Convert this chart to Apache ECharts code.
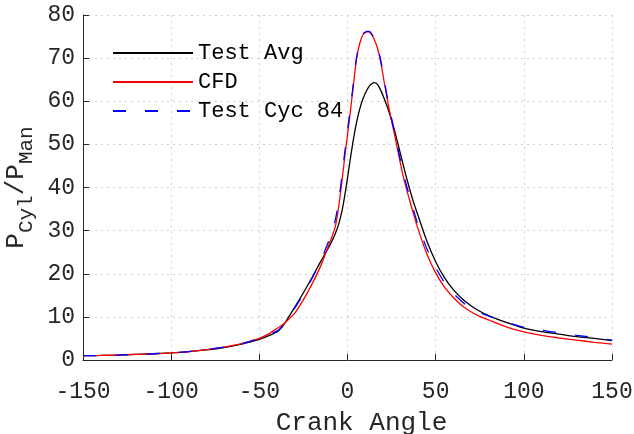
<!DOCTYPE html>
<html>
<head>
<meta charset="utf-8">
<script src="https://cdn.jsdelivr.net/npm/echarts@6/dist/echarts.min.js"></script>
<style>
html,body{margin:0;padding:0;background:#fff;}
#chart{width:634px;height:434px;}
</style>
</head>
<body>
<div id="chart"></div>
<script>
const angles = [-150,-140,-130,-120,-110,-100,-90,-80,-70,-60,
 -50,-45,-40,-37,-35,-30,-25,-20,-15,-10,
 -7,-5,-3,-1,1,3,5,7,9,11,
 12,13,15,17,19,21,23,25,27,29,
 31,33,35,37,40,45,50,55,60,65,
 70,75,80,90,100,110,120,130,140,150];

const testAvg = [1.0,1.05,1.15,1.3,1.45,1.65,1.95,2.35,2.9,3.7,
 4.8,5.6,6.5,7.7,8.9,12.2,15.6,19.2,23.0,26.6,
 29.2,31.5,34.8,39.5,45.0,50.3,54.8,58.3,60.8,62.6,
 63.3,63.8,64.3,63.9,62.4,60.4,58.2,55.6,52.7,49.5,
 46.2,43.0,40.0,37.2,33.5,27.6,22.8,19.1,16.3,14.2,
 12.6,11.3,10.3,8.7,7.4,6.6,6.0,5.4,5.0,4.5];

const cfd = [1.0,1.05,1.15,1.3,1.45,1.65,1.95,2.4,3.0,3.8,
 5.0,6.0,7.3,8.1,8.8,10.8,14.0,17.7,22.0,27.3,
 30.8,35.5,42.0,49.0,55.5,62.5,69.5,73.5,75.6,76.1,
 76.1,75.9,74.5,72.3,68.8,64.0,59.5,55.5,51.6,47.6,
 43.6,40.3,37.4,34.5,30.4,24.6,20.2,16.9,14.5,12.6,
 11.2,10.1,9.3,7.7,6.5,5.7,5.1,4.6,4.1,3.7];

const testCyc84 = [1.0,1.05,1.15,1.3,1.45,1.65,1.95,2.4,3.0,3.8,
 5.0,5.8,6.7,7.8,9.0,12.0,15.3,19.0,23.2,28.3,
 32.3,36.8,43.2,50.0,56.3,63.0,69.8,73.7,75.7,76.2,
 76.2,76.0,74.7,72.6,69.2,64.5,60.0,56.0,52.2,48.3,
 44.5,41.2,38.2,35.4,31.3,25.8,21.4,18.0,15.5,13.5,
 12.0,11.0,10.2,8.8,7.6,6.9,6.3,5.7,5.2,4.6];

const seriesNames = ['Test Avg', 'CFD', 'Test Cyc 84'];
const xTitle = 'Crank Angle';
const yTitle = '{m|P}{s|Cyl}{m|/P}{s|Man}';

const FONT = '"Liberation Mono", "Courier New", monospace';
const TXT = '#262626';

const pairs = vals => angles.map((a, i) => [a, vals[i]]);

const chart = echarts.init(document.getElementById('chart'), null, {renderer: 'canvas'});
chart.setOption({
  animation: false,
  backgroundColor: '#fff',
  grid: {left: 83, right: 22, top: 15, bottom: 74, containLabel: false, outerBoundsMode: 'none'},
  legend: {
    orient: 'vertical', left: 112, top: 42, padding: 0,
    itemWidth: 80, itemHeight: 14, itemGap: 7,
    itemStyle: {opacity: 0},
    textStyle: {fontFamily: FONT, fontSize: 22, color: '#000', lineHeight: 22},
    data: seriesNames
  },
  xAxis: {
    type: 'value', min: -150, max: 150, interval: 50,
    axisLine: {show: true, onZero: false, lineStyle: {color: TXT, width: 1}},
    axisTick: {show: true, inside: true, length: 6, lineStyle: {color: TXT}},
    axisLabel: {fontFamily: FONT, fontSize: 23, color: TXT, margin: 20},
    splitLine: {show: true, lineStyle: {type: [2, 4], color: '#d0d0d0', width: 1}},
    name: xTitle, nameLocation: 'middle', nameGap: 50,
    nameTextStyle: {fontFamily: FONT, fontSize: 26, color: TXT, padding: [0, 0, 0, 28]}
  },
  yAxis: {
    type: 'value', min: 0, max: 80, interval: 10,
    axisLine: {show: true, onZero: false, lineStyle: {color: TXT, width: 1}},
    axisTick: {show: true, inside: true, length: 6, lineStyle: {color: TXT}},
    axisLabel: {fontFamily: FONT, fontSize: 23, color: TXT, margin: 8},
    splitLine: {show: true, lineStyle: {type: [2, 4], color: '#d0d0d0', width: 1}},
    name: yTitle, nameLocation: 'middle', nameGap: 41, nameRotate: 90,
    nameTextStyle: {
      color: TXT, padding: [0, 0, 0, 0],
      rich: {
        m: {fontFamily: FONT, fontSize: 26, color: TXT},
        s: {fontFamily: FONT, fontSize: 21, color: TXT, padding: [19, 0, 0, 0]}
      }
    }
  },
  series: [
    {name: seriesNames[0], type: 'line', data: pairs(testAvg), symbol: 'none', showSymbol: false, smooth: 0.25,
     lineStyle: {color: '#000000', width: 1.3}, itemStyle: {color: '#000000'}},
    {name: seriesNames[1], type: 'line', data: pairs(cfd), symbol: 'none', showSymbol: false, smooth: 0.2,
     lineStyle: {color: '#ff0000', width: 1.3}, itemStyle: {color: '#ff0000'}},
    {name: seriesNames[2], type: 'line', data: pairs(testCyc84), symbol: 'none', showSymbol: false, smooth: 0.2,
     lineStyle: {color: '#0000ff', width: 1.3, type: [13, 19]}, itemStyle: {color: '#0000ff'}}
  ]
});
</script>
</body>
</html>
